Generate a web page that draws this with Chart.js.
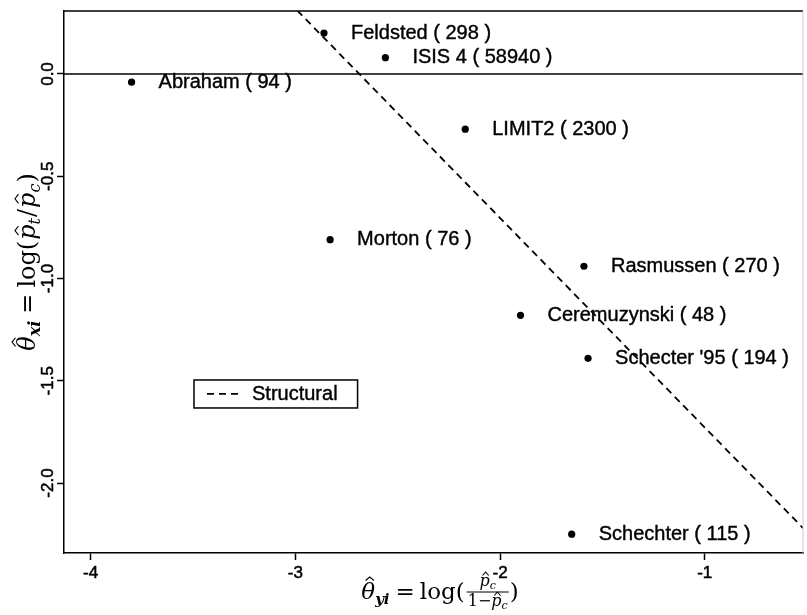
<!DOCTYPE html>
<html>
<head>
<meta charset="utf-8">
<script src="https://cdn.jsdelivr.net/npm/chart.js@4.4.0/dist/chart.umd.min.js"></script>
<style>
  html, body { margin: 0; padding: 0; background: #fff; }
</style>
</head>
<body>
<canvas id="grafico" width="807" height="615"></canvas>
<script>
// ensayos: log odds del control (eje x) y log odds ratio (eje y)
const ensayos = ['Abraham', 'Feldsted', 'ISIS 4', 'LIMIT2', 'Morton', 'Rasmussen', 'Ceremuzynski', "Schecter '95", 'Schechter']
const tamanos = [94, 298, 58940, 2300, 76, 270, 48, 194, 115]
const thetaY = [-3.80, -2.86, -2.56, -2.17, -2.83, -1.59, -1.90, -1.57, -1.65]
const thetaX = [-0.04, 0.20, 0.08, -0.27, -0.81, -0.94, -1.18, -1.39, -2.25]

// recta del modelo estructural
const estructuralX = [-2.99, -0.52]
const estructuralY = [0.31, -2.22]

const ticksX = [-4, -3, -2, -1]
const ticksY = [0, -0.5, -1, -1.5, -2]
const rangoX = [-4.13, -0.52]
const rangoY = [-2.342, 0.308]

const divGrafico = document.querySelector('#grafico')
const fuente = '"Liberation Sans", Arial, sans-serif'
const serif = '"DejaVu Serif", "Liberation Serif", serif'

// formulas: lista de trozos de texto, con sombrero y fracciones
const medirFormula = (ctx, trozos) => {
    let w = 0
    trozos.forEach(t => {
        if (t.frac) {
            const a = medirFormula(ctx, t.frac.num)
            const b = medirFormula(ctx, t.frac.den)
            w += Math.max(a, b) + 4
        } else {
            ctx.font = t.font
            w += ctx.measureText(t.t).width + (t.sp || 0)
        }
    })
    return w
}

const dibujarFormula = (ctx, trozos, x, y) => {
    trozos.forEach(t => {
        if (t.frac) {
            const a = medirFormula(ctx, t.frac.num)
            const b = medirFormula(ctx, t.frac.den)
            const ancho = Math.max(a, b)
            const eje = y - 7
            dibujarFormula(ctx, t.frac.num, x + 2 + (ancho - a) / 2, eje - 6)
            dibujarFormula(ctx, t.frac.den, x + 2 + (ancho - b) / 2, eje + 14)
            ctx.beginPath()
            ctx.lineWidth = 1
            ctx.moveTo(x + 1, eje)
            ctx.lineTo(x + ancho + 3, eje)
            ctx.stroke()
            x += ancho + 4
            return
        }
        ctx.font = t.font
        const w = ctx.measureText(t.t).width
        const yy = y + (t.dy || 0)
        ctx.fillText(t.t, x, yy)
        if (t.hat) {
            const cx = x + w / 2 + (t.hx || 0)
            const arriba = yy - t.hat
            const hw = w * 0.3
            ctx.beginPath()
            ctx.lineWidth = 1.1
            ctx.moveTo(cx - hw, arriba + 3.5)
            ctx.lineTo(cx, arriba)
            ctx.lineTo(cx + hw, arriba + 3.5)
            ctx.stroke()
        }
        x += w + (t.sp || 0)
    })
}

const tituloX = [
    { t: 'θ', font: `italic 23px ${serif}`, hat: 22, hx: 1.5 },
    { t: 'yi', font: `italic bold 15px ${serif}`, dy: 5, sp: 6 },
    { t: '=', font: `23px ${serif}`, sp: 5 },
    { t: 'log(', font: `23px ${serif}`, sp: 1 },
    { frac: {
        num: [{ t: 'p', font: `italic 16px ${serif}`, hat: 14, hx: 1 }, { t: 'c', font: `italic 11px ${serif}`, dy: 3 }],
        den: [{ t: '1−', font: `16px ${serif}` }, { t: 'p', font: `italic 16px ${serif}`, hat: 14, hx: 1 }, { t: 'c', font: `italic 11px ${serif}`, dy: 3 }]
    } },
    { t: ')', font: `23px ${serif}` }
]

const tituloY = [
    { t: 'θ', font: `italic 24px ${serif}`, hat: 23, hx: 1.5 },
    { t: 'xi', font: `italic bold 16px ${serif}`, dy: 5, sp: 7 },
    { t: '=', font: `24px ${serif}`, sp: 6 },
    { t: 'log(', font: `24px ${serif}`, sp: 1 },
    { t: 'p', font: `italic 24px ${serif}`, hat: 20, hx: 1.5 },
    { t: 't', font: `italic 16px ${serif}`, dy: 5, sp: 1 },
    { t: '/', font: `24px ${serif}`, sp: 1 },
    { t: 'p', font: `italic 24px ${serif}`, hat: 20, hx: 1.5 },
    { t: 'c', font: `italic 16px ${serif}`, dy: 5, sp: 1 },
    { t: ')', font: `24px ${serif}` }
]

const marco = {
    id: 'marco',
    afterDraw: (chart) => {
        const { ctx, chartArea: a } = chart
        ctx.save()
        ctx.strokeStyle = '#000'
        ctx.lineWidth = 1.5
        ctx.beginPath()
        ctx.moveTo(a.left, a.top)
        ctx.lineTo(a.right, a.top)
        ctx.stroke()
        ctx.strokeStyle = '#c8c8c8'
        ctx.lineWidth = 1
        ctx.beginPath()
        ctx.moveTo(a.right, a.top)
        ctx.lineTo(a.right, a.bottom)
        ctx.stroke()
        ctx.restore()
    }
}

const etiquetas = {
    id: 'etiquetas',
    afterDatasetsDraw: (chart) => {
        const { ctx } = chart
        const puntos = chart.getDatasetMeta(0).data
        ctx.save()
        ctx.fillStyle = '#000'
        ctx.strokeStyle = '#000'
        ctx.lineWidth = 0.4
        ctx.font = `20px ${fuente}`
        ctx.textBaseline = 'middle'
        puntos.forEach((p, i) => {
            const texto = `${ensayos[i]} ( ${tamanos[i]} )`
            ctx.fillText(texto, p.x + 27, p.y)
            ctx.strokeText(texto, p.x + 27, p.y)
        })
        ctx.restore()
    }
}

const leyenda = {
    id: 'leyenda',
    afterDraw: (chart) => {
        const { ctx, scales } = chart
        const x0 = scales.x.getPixelForValue(-3.495)
        const y0 = scales.y.getPixelForValue(-1.496)
        const ds = chart.data.datasets[1]
        ctx.save()
        ctx.font = `20px ${fuente}`
        const ancho = 58 + ctx.measureText(ds.label).width + 20
        ctx.strokeStyle = '#000'
        ctx.lineWidth = 1.5
        ctx.strokeRect(x0, y0, ancho, 28)
        ctx.beginPath()
        ctx.setLineDash(ds.borderDash)
        ctx.lineWidth = ds.borderWidth
        ctx.moveTo(x0 + 13, y0 + 14)
        ctx.lineTo(x0 + 45, y0 + 14)
        ctx.stroke()
        ctx.setLineDash([])
        ctx.fillStyle = '#000'
        ctx.lineWidth = 0.4
        ctx.textBaseline = 'middle'
        ctx.fillText(ds.label, x0 + 58, y0 + 15)
        ctx.strokeText(ds.label, x0 + 58, y0 + 15)
        ctx.restore()
    }
}

const titulos = {
    id: 'titulos',
    afterDraw: (chart) => {
        const { ctx } = chart
        ctx.save()
        ctx.fillStyle = '#000'
        ctx.strokeStyle = '#000'
        ctx.textBaseline = 'alphabetic'
        const wx = medirFormula(ctx, tituloX)
        dibujarFormula(ctx, tituloX, 440 - wx / 2, 599)
        const wy = medirFormula(ctx, tituloY)
        ctx.translate(35, 262)
        ctx.rotate(-Math.PI / 2)
        dibujarFormula(ctx, tituloY, -wy / 2, 0)
        ctx.restore()
    }
}

let chart
const renderGrafico = () => {
    chart = new Chart(divGrafico, {
        type: 'scatter',
        data: {
            datasets: [
                {
                    label: 'ensayos',
                    data: thetaY.map((x, i) => ({ x: x, y: thetaX[i] })),
                    pointRadius: 3.6,
                    pointBackgroundColor: '#000',
                    pointBorderWidth: 0,
                    showLine: false
                },
                {
                    label: 'Structural',
                    data: estructuralX.map((x, i) => ({ x: x, y: estructuralY[i] })),
                    showLine: true,
                    borderColor: '#000',
                    borderWidth: 1.8,
                    borderDash: [7, 5],
                    pointRadius: 0
                },
                {
                    label: 'cero',
                    data: rangoX.map(x => ({ x: x, y: 0 })),
                    showLine: true,
                    borderColor: '#000',
                    borderWidth: 1.5,
                    pointRadius: 0
                }
            ]
        },
        options: {
            responsive: false,
            animation: false,
            layout: { padding: { top: 11, right: 1, left: 0, bottom: 0 } },
            plugins: { legend: { display: false }, tooltip: { enabled: false } },
            scales: {
                x: {
                    type: 'linear',
                    min: rangoX[0],
                    max: rangoX[1],
                    afterBuildTicks: s => { s.ticks = ticksX.map(v => ({ value: v })) },
                    afterFit: s => { s.height = 62 },
                    grid: { drawOnChartArea: false, tickLength: 7, color: '#000', tickWidth: 1.5 },
                    border: { color: '#000', width: 1.5 },
                    ticks: { color: '#000', font: { family: fuente, size: 17 }, padding: 3, maxRotation: 0, textStrokeColor: '#000', textStrokeWidth: 0.5, callback: v => String(v) }
                },
                y: {
                    type: 'linear',
                    min: rangoY[0],
                    max: rangoY[1],
                    afterBuildTicks: s => { s.ticks = ticksY.map(v => ({ value: v })) },
                    afterFit: s => { s.width = 64 },
                    grid: { drawOnChartArea: false, tickLength: 7, color: '#000', tickWidth: 1.5 },
                    border: { color: '#000', width: 1.5 },
                    ticks: { color: '#000', font: { family: fuente, size: 17 }, padding: -6, minRotation: 90, maxRotation: 90, crossAlign: 'center', textStrokeColor: '#000', textStrokeWidth: 0.5, callback: v => v.toFixed(1) }
                }
            }
        },
        plugins: [marco, etiquetas, leyenda, titulos]
    })
}

renderGrafico()
</script>
</body>
</html>
